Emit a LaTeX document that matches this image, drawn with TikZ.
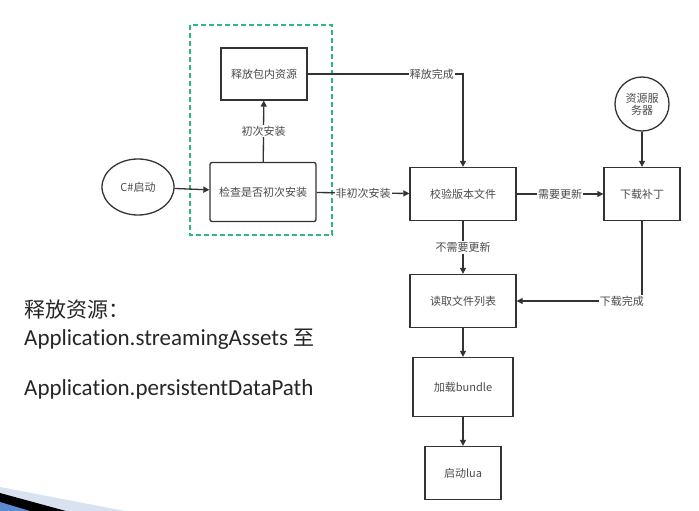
\documentclass[tikz,border=0pt]{standalone}
\usepackage{fontspec}
\setmainfont{Carlito}[Ligatures=NoCommon]
\newfontfamily\cjk{Noto Sans CJK SC}
\usetikzlibrary{arrows.meta, positioning, shapes.geometric}

\definecolor{lineclr}{HTML}{333333}
\definecolor{txtclr}{HTML}{4A4A4A}
\definecolor{grpgreen}{HTML}{2EB87E}
\definecolor{slideblue}{HTML}{5B8BD0}
\definecolor{slidepale}{HTML}{D8E2F0}

\tikzset{
  stepbox/.style={draw=lineclr, line width=1.3pt, minimum width=#1, minimum height=53pt,
    inner sep=0pt, text=txtclr, font=\cjk\fontsize{11}{13}\selectfont},
  lbl/.style={fill=white, inner sep=1pt, text=txtclr, font=\cjk\fontsize{11}{13}\selectfont},
  flow/.style={draw=lineclr, line width=1.3pt, -{Triangle[length=6pt, width=6pt]}},
}

\begin{document}
\begin{tikzpicture}[x=1pt, y=-1pt]
\useasboundingbox (0,0) rectangle (699,511);

% slide corner decoration
\fill[slidepale] (0,487) -- (125,511) -- (0,511) -- cycle;
\fill[black] (0,493) -- (66,511) -- (0,511) -- cycle;
\fill[slideblue] (0,502) -- (30,511) -- (0,511) -- cycle;

% group of first install
\draw[grpgreen, line width=1.6pt, dash pattern=on 5pt off 3pt] (190,25) rectangle (332,235);

\node[ellipse, draw=lineclr, line width=1.3pt, minimum width=72pt, minimum height=56pt, inner sep=0pt,
  text=txtclr, font=\cjk\fontsize{11}{13}\selectfont] (start) at (138,187) {C\#启动};
\node[stepbox=106pt, minimum height=59pt, rounded corners=2pt] (check) at (263,192) {检查是否初次安装};
\node[stepbox=86pt, minimum height=52pt] (release) at (264,74) {释放包内资源};
\node[stepbox=106pt] (verify) at (463,194) {校验版本文件};
\node[stepbox=76pt] (patch) at (642,194) {下载补丁};
\node[circle, draw=lineclr, line width=1.3pt, minimum size=54pt, inner sep=0pt, align=center,
  text=txtclr, font=\cjk\fontsize{11}{12}\selectfont] (server) at (642,104) {资源服\\务器};
\node[stepbox=106pt] (readlist) at (463,301) {读取文件列表};
\node[stepbox=100pt, minimum height=59pt] (bundle) at (463,387) {加载bundle};
\node[stepbox=76pt] (lua) at (463,473) {启动lua};

\draw[flow] (start) -- (check);
\draw[flow] (check) -- node[lbl] {初次安装} (release);
\draw[flow] (release.east) -| node[lbl, pos=0.4] {释放完成} (verify.north);
\draw[flow] (check) -- node[lbl] {非初次安装} (verify);
\draw[flow] (verify) -- node[lbl] {需要更新} (patch);
\draw[flow] (server) -- (patch);
\draw[flow] (verify) -- node[lbl] {不需要更新} (readlist);
\draw[flow] (patch.south) |- node[lbl, pos=0.58] {下载完成} (readlist.east);
\draw[flow] (readlist) -- (bundle);
\draw[flow] (bundle) -- (lua);

% note on the left
\node[anchor=west, inner sep=0pt, text=black!85, font=\cjk\fontsize{21}{24}\selectfont] (note1) at (24,310) {释放资源：};
\node[anchor=west, inner sep=0pt, text=black!85, font=\fontsize{23}{26}\selectfont] (note2) at (24,339) {Application.streamingAssets {\cjk\fontsize{21}{24}\selectfont 至}};
\node[anchor=west, inner sep=0pt, text=black!85, font=\fontsize{23}{26}\selectfont] (note3) at (24,389) {Application.persistentDataPath};
\end{tikzpicture}
\end{document}
